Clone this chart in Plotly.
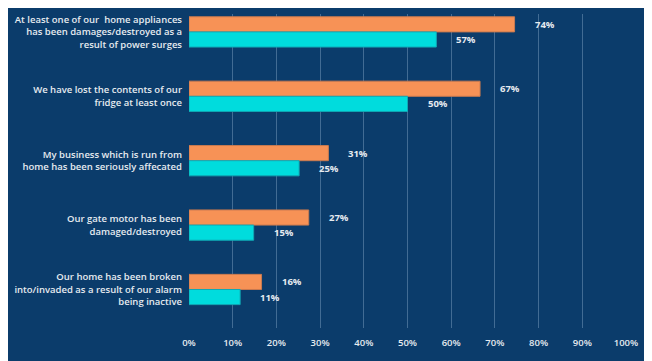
import plotly.graph_objects as go

categories = [
    "At least one of our  home appliances<br>has been damages/destroyed as a<br>result of power surges",
    "We have lost the contents of our<br>fridge at least once",
    "My business which is run from<br>home has been seriously affecated",
    "Our gate motor has been<br>damaged/destroyed",
    "Our home has been broken<br>into/invaded as a result of our alarm<br>being inactive",
]
series_a = [74.5, 66.6, 31.9, 27.4, 16.6]
series_a_labels = ["74%", "67%", "31%", "27%", "16%"]
series_b = [56.6, 50.0, 25.2, 14.8, 11.7]
series_b_labels = ["57%", "50%", "25%", "15%", "11%"]
x_ticks = [0, 10, 20, 30, 40, 50, 60, 70, 80, 90, 100]
x_tick_labels = [f"{t}%" for t in x_ticks]

BG = "#0b3c6b"
ORANGE = "#f79256"
CYAN = "#00dcdd"
TXT = "#e6ebf0"
FONT = "Open Sans"

fig = go.Figure()
fig.add_trace(go.Bar(
    y=categories, x=series_a, orientation="h", name="A",
    marker=dict(color=ORANGE, line=dict(color="#c97a50", width=1)),
    text=series_a_labels, textposition="none", hoverinfo="skip",
))
fig.add_trace(go.Bar(
    y=categories, x=series_b, orientation="h", name="B",
    marker=dict(color=CYAN, line=dict(color="#10a9b5", width=1)),
    text=series_b_labels, textposition="none", hoverinfo="skip",
))

# value labels (offset from bar ends)
bw = (1 - 0.53) / 2
for i, cat in enumerate(categories):
    for val, lab, off in ((series_a[i], series_a_labels[i], -bw / 2), (series_b[i], series_b_labels[i], bw / 2)):
        fig.add_annotation(
            x=val, y=i + off, xref="x", yref="y", text=lab, showarrow=False,
            xanchor="left", yanchor="middle", xshift=18,
            font=dict(family=FONT, size=9.5, color=TXT, weight=700),
        )

fig.update_layout(
    width=644, height=353,
    paper_bgcolor=BG, plot_bgcolor=BG,
    barmode="group", bargap=0.53, bargroupgap=0,
    showlegend=False,
    margin=dict(l=181, r=26, t=6, b=33),
    font=dict(family=FONT, color=TXT, size=10),
)
fig.update_xaxes(
    range=[0, 100], tickvals=x_ticks, ticktext=x_tick_labels,
    showgrid=True, gridcolor="rgba(150,180,210,0.4)", gridwidth=1,
    zeroline=False, showline=False, ticks="", automargin=False,
    ticklabelstandoff=7,
    tickfont=dict(family=FONT, size=9.5, color=TXT, weight=600),
    fixedrange=True,
)
fig.update_yaxes(
    type="category", categoryorder="array", categoryarray=categories,
    range=[4.598, -0.278], showgrid=False, zeroline=False, showline=False,
    ticks="", ticklabelstandoff=6, automargin=False,
    tickfont=dict(family=FONT, size=9.5, color=TXT, weight=600),
    fixedrange=True,
)

fig.write_html("out.html")
